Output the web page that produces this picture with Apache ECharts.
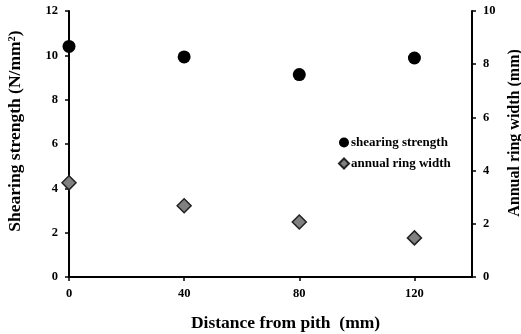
<!DOCTYPE html>
<html>
<head>
<meta charset="utf-8">
<script src="https://cdn.jsdelivr.net/npm/echarts@6/dist/echarts.min.js"></script>
<style>
  html, body { margin: 0; padding: 0; background: #fff; }
  #chart { width: 521px; height: 334px; }
</style>
</head>
<body>
<div id="chart"></div>
<script>
// distance from pith (mm)
const distances = [0, 40, 80, 120];
// shearing strength (N/mm2), left axis
const shearStrength = [10.4, 9.93, 9.13, 9.88];
// annual ring width (mm), right axis
const ringWidth = [3.54, 2.68, 2.07, 1.47];

const font = 'Liberation Serif';
const chart = echarts.init(document.getElementById('chart'));

const axisBase = {
    axisLine: { show: true, lineStyle: { color: '#000', width: 2 } },
    axisTick: { show: true, inside: false, length: 4, lineStyle: { color: '#000', width: 1.5 } },
    splitLine: { show: false },
    axisLabel: { color: '#000', fontFamily: font, fontWeight: 'bold', fontSize: 12.5, margin: 11 },
    nameLocation: 'middle',
    nameTextStyle: { color: '#000', fontFamily: font, fontWeight: 'bold', fontSize: 17.5 },
};

chart.setOption({
    animation: false,
    grid: { left: 69, right: 49, top: 11, bottom: 57, outerBoundsMode: 'none', containLabel: false },
    legend: {
        orient: 'vertical',
        left: 333,
        top: 131,
        itemWidth: 10,
        itemHeight: 10,
        itemGap: 8,
        textStyle: { color: '#000', fontFamily: font, fontWeight: 'bold', fontSize: 13, padding: [0, 0, 0, -3] },
        data: [
            { name: 'shearing strength', icon: 'circle' },
            { name: 'annual ring width', icon: 'diamond' },
        ],
    },
    xAxis: Object.assign({}, axisBase, {
        type: 'value',
        min: 0,
        max: 140,
        interval: 40,
        name: 'Distance from pith  (mm)',
        nameGap: 37,
        nameTextStyle: Object.assign({}, axisBase.nameTextStyle, { padding: [0, 0, 0, 30] }),
        axisLabel: Object.assign({}, axisBase.axisLabel, {
            margin: 10,
            showMaxLabel: false,
        }),
    }),
    yAxis: [
        Object.assign({}, axisBase, {
            type: 'value',
            min: 0,
            max: 12,
            interval: 2,
            position: 'left',
            name: 'Shearing strength (N/mm²)',
            nameGap: 45,
            nameRotate: 90,
            nameTextStyle: Object.assign({}, axisBase.nameTextStyle, { padding: [0, 0, 0, 26] }),
        }),
        Object.assign({}, axisBase, {
            type: 'value',
            min: 0,
            max: 10,
            interval: 2,
            position: 'right',
            name: 'Annual ring width (mm)',
            nameGap: 27,
            nameRotate: 90,
            nameTextStyle: Object.assign({}, axisBase.nameTextStyle, { fontSize: 16, padding: [0, 0, 0, 22] }),
        }),
    ],
    series: [
        {
            name: 'shearing strength',
            type: 'scatter',
            yAxisIndex: 0,
            symbol: 'circle',
            symbolSize: 13,
            itemStyle: { color: '#000', opacity: 1 },
            data: distances.map((d, i) => [d, shearStrength[i]]),
        },
        {
            name: 'annual ring width',
            type: 'scatter',
            yAxisIndex: 1,
            symbol: 'diamond',
            symbolSize: 14,
            itemStyle: { color: '#808080', borderColor: '#222', borderWidth: 1.5, opacity: 1 },
            data: distances.map((d, i) => [d, ringWidth[i]]),
        },
    ],
});
</script>
</body>
</html>
